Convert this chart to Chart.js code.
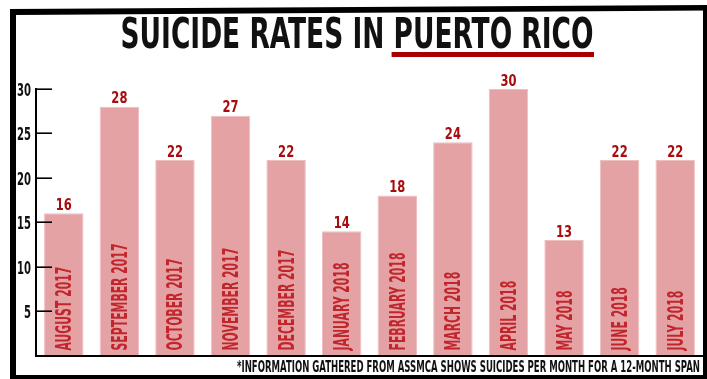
<!DOCTYPE html>
<html>
<head>
<meta charset="utf-8">
<script src="https://cdn.jsdelivr.net/npm/chart.js@4.4.1/dist/chart.umd.min.js"></script>
<style>
html,body{margin:0;padding:0;background:#fff;}
#wrap{position:relative;width:707px;height:379px;}
</style>
</head>
<body>
<div id="wrap"><canvas id="c" width="707" height="379"></canvas></div>
<script>
const titleStart = 'SUICIDE RATES IN ';
const titleEnd = 'PUERTO RICO';
const footnote = '*INFORMATION GATHERED FROM ASSMCA SHOWS SUICIDES PER MONTH FOR A 12-MONTH SPAN';
const months = ['AUGUST 2017','SEPTEMBER 2017','OCTOBER 2017','NOVEMBER 2017','DECEMBER 2017','JANUARY 2018','FEBRUARY 2018','MARCH 2018','APRIL 2018','MAY 2018','JUNE 2018','JULY 2018'];
const suicides = [16,28,22,27,22,14,18,24,30,13,22,22];
const yTicks = [5,10,15,20,25,30];

const FONT = '"DejaVu Sans Condensed", "Liberation Sans", sans-serif';

const decor = {
  id: 'decor',
  beforeDraw(chart) {
    const ctx = chart.ctx;
    ctx.save();
    ctx.fillStyle = '#fff';
    ctx.fillRect(0, 0, chart.width, chart.height);
    ctx.fillStyle = '#000';
    ctx.beginPath();
    ctx.moveTo(10, 9); ctx.lineTo(707, 5); ctx.lineTo(707, 10.5); ctx.lineTo(16, 15); ctx.closePath();
    ctx.fill();
    ctx.fillRect(10, 9, 6, 370);
    ctx.fillRect(703, 5, 4, 374);
    ctx.fillRect(10, 375, 697, 4);
    ctx.restore();
  },
  afterDatasetsDraw(chart) {
    const ctx = chart.ctx;
    const y = chart.scales.y;
    const meta = chart.getDatasetMeta(0);
    const left = chart.chartArea.left;
    ctx.save();
    // inward tick marks and tick labels from the scale
    ctx.strokeStyle = '#000';
    ctx.lineWidth = 1.6;
    ctx.fillStyle = '#111';
    ctx.font = 'bold 18px ' + FONT;
    ctx.textAlign = 'right';
    ctx.textBaseline = 'alphabetic';
    y.ticks.forEach(t => {
      if (!yTicks.includes(t.value)) return;
      const py = Math.round(y.getPixelForValue(t.value)) + 0.2;
      ctx.beginPath();
      ctx.moveTo(left, py);
      ctx.lineTo(left + 16, py);
      ctx.stroke();
      ctx.save();
      ctx.translate(31, py + 6.5);
      ctx.scale(0.62, 1);
      ctx.fillText(String(t.value), 0, 0);
      ctx.restore();
    });
    // value labels
    ctx.fillStyle = '#a80c0e';
    ctx.font = 'bold 16px ' + FONT;
    ctx.textAlign = 'center';
    meta.data.forEach((el, i) => {
      ctx.save();
      ctx.translate(el.x, el.y - 3.5);
      ctx.scale(0.8, 1);
      ctx.fillText(String(chart.data.datasets[0].data[i]), 0, 0);
      ctx.restore();
    });
    // category labels inside bars
    ctx.fillStyle = '#c1262d';
    ctx.font = 'bold 21px ' + FONT;
    ctx.textAlign = 'left';
    const sc = 107 / ctx.measureText('SEPTEMBER 2017').width;
    const base = y.getPixelForValue(0) - 5;
    meta.data.forEach((el, i) => {
      ctx.save();
      ctx.translate(el.x, base);
      ctx.rotate(-Math.PI / 2);
      ctx.scale(sc, 1);
      ctx.fillText(chart.data.labels[i], 0, 7.5);
      ctx.restore();
    });
    ctx.restore();
  },
  afterDraw(chart) {
    const ctx = chart.ctx;
    ctx.save();
    ctx.font = 'bold 42px ' + FONT;
    ctx.fillStyle = '#111';
    ctx.textAlign = 'left';
    ctx.textBaseline = 'alphabetic';
    const w1 = ctx.measureText(titleStart).width;
    const w2 = ctx.measureText(titleEnd).width;
    const sx = 473 / (w1 + w2);
    ctx.save();
    ctx.translate(120.5, 48);
    ctx.scale(sx, 1);
    ctx.fillText(titleStart, 0, 0);
    ctx.fillText(titleEnd, w1, 0);
    ctx.restore();
    ctx.fillStyle = '#a80000';
    const ux = 120.5 + w1 * sx - 2;
    ctx.fillRect(ux, 52, 594 - ux, 5);
    ctx.font = 'bold 15px ' + FONT;
    ctx.fillStyle = '#111';
    ctx.textAlign = 'right';
    const fw = ctx.measureText(footnote).width;
    ctx.save();
    ctx.translate(700, 372);
    ctx.scale(463 / fw, 1);
    ctx.fillText(footnote, 0, 0);
    ctx.restore();
    ctx.restore();
  }
};

new Chart(document.getElementById('c'), {
  type: 'bar',
  data: {
    labels: months,
    datasets: [{
      data: suicides,
      backgroundColor: '#e4a2a4',
      borderColor: '#eebfc0',
      borderWidth: 1,
      categoryPercentage: 1,
      barPercentage: 0.71
    }]
  },
  options: {
    responsive: false,
    animation: false,
    devicePixelRatio: 1,
    layout: { padding: { top: 89, right: 4, bottom: 23.5, left: 0 } },
    plugins: { legend: { display: false }, tooltip: { enabled: false }, title: { display: false } },
    scales: {
      x: {
        grid: { display: false },
        border: { display: true, color: '#000', width: 2 },
        ticks: { display: false },
        afterFit(s) { s.height = 0; }
      },
      y: {
        min: 0, max: 30,
        afterFit(s) { s.width = 36; },
        grid: { drawOnChartArea: false, drawTicks: false },
        border: { display: true, color: '#000', width: 2 },
        ticks: { stepSize: 5, display: false }
      }
    }
  },
  plugins: [decor]
});
</script>
</body>
</html>
